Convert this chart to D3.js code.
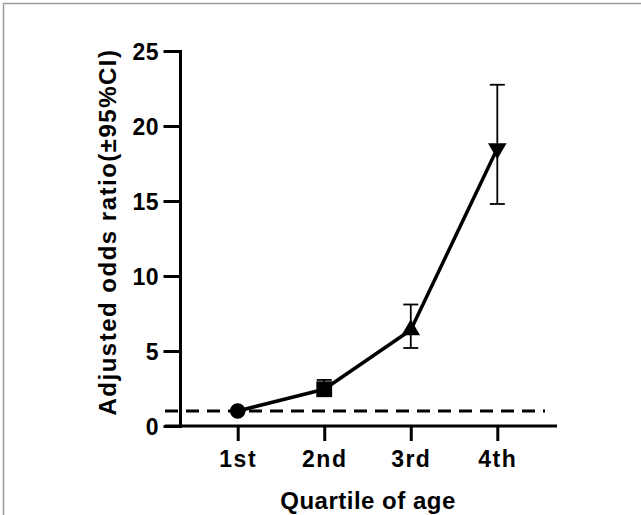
<!DOCTYPE html>
<html>
<head>
<meta charset="utf-8">
<script src="https://cdn.jsdelivr.net/npm/d3@7"></script>
<style>
  body { margin: 0; background: #fff; }
  svg text { font-family: "Liberation Sans", Arial, sans-serif; font-weight: bold; fill: #000; }
</style>
</head>
<body>
<div id="chart"></div>
<script>
// data
var categories = ["1st", "2nd", "3rd", "4th"];
var oddsRatio  = [1.0, 2.45, 6.4, 18.5];
var ciLow      = [1.0, 2.0, 5.2, 14.8];
var ciHigh     = [1.0, 3.07, 8.1, 22.75];
var symbols    = ["circle", "square", "triangle", "triangle-down"];
var yTicks     = [0, 5, 10, 15, 20, 25];
var refValue   = 1;

var width = 641, height = 515;

var svg = d3.select("#chart").append("svg")
            .attr("width", width).attr("height", height);

// thin grey frame on top and left
svg.append("path")
   .attr("d", "M3.5,515V3.5H641")
   .style("fill", "none").style("stroke", "#9a9a9a").style("stroke-width", 1.5);

var x = d3.scalePoint().domain(categories).range([237.7, 497.3]);
var y = d3.scaleLinear().domain([0, 25]).range([426, 51]);

var axisX0 = 180;

// y axis
var gy = svg.append("g")
            .attr("transform", "translate(" + axisX0 + ",0)")
            .call(d3.axisLeft(y).tickValues(yTicks).tickSize(15).tickSizeOuter(0).tickPadding(6));
gy.selectAll("path, line").style("stroke", "#000").style("stroke-width", 3).style("stroke-linecap", "square");
gy.selectAll("text").style("font-size", "23px").style("letter-spacing", "0.5px")
  .attr("font-family", null).attr("dy", "0.36em");

// x axis
var gx = svg.append("g")
            .attr("transform", "translate(0," + y(0) + ")")
            .call(d3.axisBottom(x).tickSize(15).tickSizeOuter(0).tickPadding(10));
gx.select(".domain").remove();
gx.append("line")
  .attr("x1", 165).attr("x2", 557).attr("y1", 0).attr("y2", 0);
gx.selectAll("line").style("stroke", "#000").style("stroke-width", 3);
gx.selectAll("text").style("font-size", "23px").style("letter-spacing", "1.5px")
  .attr("font-family", null);

// reference line at OR = 1
svg.append("line")
   .attr("x1", 165).attr("x2", 545)
   .attr("y1", y(refValue)).attr("y2", y(refValue))
   .style("stroke", "#000").style("stroke-width", 3)
   .style("stroke-dasharray", "13,8");

var pts = categories.map(function(c, i){
  return { c: c, v: oddsRatio[i], lo: ciLow[i], hi: ciHigh[i], s: symbols[i] };
});

// error bars
var eb = svg.append("g").selectAll("g").data(pts).enter().append("g")
            .style("stroke", "#000").style("stroke-width", 1.8);
eb.append("line")
  .attr("x1", function(d){ return x(d.c); }).attr("x2", function(d){ return x(d.c); })
  .attr("y1", function(d){ return y(d.lo); }).attr("y2", function(d){ return y(d.hi); });
eb.append("line")
  .attr("x1", function(d){ return x(d.c) - 7.5; }).attr("x2", function(d){ return x(d.c) + 7.5; })
  .attr("y1", function(d){ return y(d.hi); }).attr("y2", function(d){ return y(d.hi); });
eb.append("line")
  .attr("x1", function(d){ return x(d.c) - 7.5; }).attr("x2", function(d){ return x(d.c) + 7.5; })
  .attr("y1", function(d){ return y(d.lo); }).attr("y2", function(d){ return y(d.lo); });

// connecting line
var line = d3.line().x(function(d){ return x(d.c); }).y(function(d){ return y(d.v); });
svg.append("path")
   .datum(pts)
   .attr("d", line)
   .style("fill", "none").style("stroke", "#000").style("stroke-width", 3.5)
   .style("stroke-linejoin", "round");

// markers
var symType = {
  "circle": d3.symbolCircle,
  "square": d3.symbolSquare,
  "triangle": d3.symbolTriangle,
  "triangle-down": d3.symbolTriangle
};
svg.append("g").selectAll("path").data(pts).enter().append("path")
   .attr("d", function(d){ return d3.symbol().type(symType[d.s]).size(d.s == "circle" ? 190 : (d.s == "square" ? 250 : 150))(); })
   .attr("transform", function(d){
     return "translate(" + x(d.c) + "," + y(d.v) + ")" + (d.s == "triangle-down" ? " rotate(180)" : "");
   })
   .style("fill", "#000");

// axis titles
svg.append("text")
   .attr("x", 368).attr("y", 509)
   .attr("text-anchor", "middle")
   .style("font-size", "24px").style("letter-spacing", "0.5px")
   .text("Quartile of age");

svg.append("text")
   .attr("transform", "translate(116,232) rotate(-90)")
   .attr("text-anchor", "middle")
   .style("font-size", "24px").style("letter-spacing", "1.5px")
   .text("Adjusted odds ratio(±95%CI)");
</script>
</body>
</html>
